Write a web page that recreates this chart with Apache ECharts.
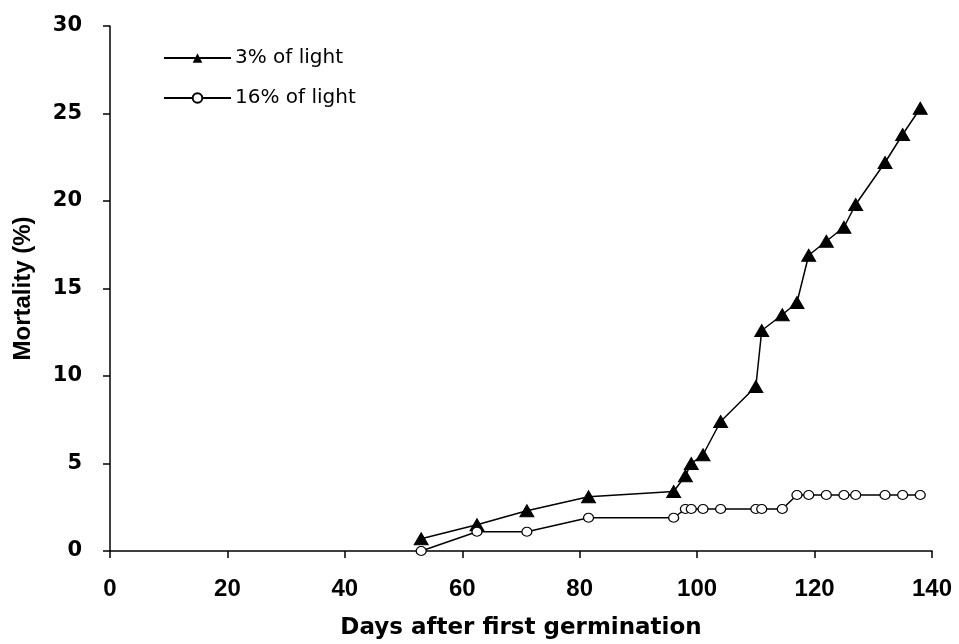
<!DOCTYPE html>
<html>
<head>
<meta charset="utf-8">
<script src="https://cdn.jsdelivr.net/npm/echarts@6/dist/echarts.min.js"></script>
<style>html,body{margin:0;padding:0;background:#fff}#c{width:959px;height:644px}</style>
</head>
<body>
<div id="c"></div>
<script>
const seriesNames = ['3% of light', '16% of light'];
const days3 = [53, 62.5, 71, 81.5, 96, 98, 99, 101, 104, 110, 111, 114.5, 117, 119, 122, 125, 127, 132, 135, 138];
const mort3 = [0.7, 1.5, 2.3, 3.1, 3.4, 4.3, 5.0, 5.5, 7.4, 9.4, 12.6, 13.5, 14.2, 16.9, 17.7, 18.5, 19.8, 22.2, 23.8, 25.3];
const days16 = [53, 62.5, 71, 81.5, 96, 98, 99, 101, 104, 110, 111, 114.5, 117, 119, 122, 125, 127, 132, 135, 138];
const mort16 = [0, 1.1, 1.1, 1.9, 1.9, 2.4, 2.4, 2.4, 2.4, 2.4, 2.4, 2.4, 3.2, 3.2, 3.2, 3.2, 3.2, 3.2, 3.2, 3.2];
const xTicks = [0, 20, 40, 60, 80, 100, 120, 140];
const yTicks = [0, 5, 10, 15, 20, 25, 30];
const xTitle = 'Days after first germination';
const yTitle = 'Mortality (%)';

const chart = echarts.init(document.getElementById('c'), null, {renderer: 'canvas'});
const pair = (xs, ys) => xs.map((x, i) => [x, ys[i]]);
chart.setOption({
  animation: false,
  backgroundColor: '#fff',
  grid: {left: 110, right: 27, top: 26, bottom: 93, containLabel: false, outerBoundsMode: 'none'},
  legend: {
    orient: 'vertical', left: 163, top: 47, padding: 0, itemWidth: 67, itemHeight: 12, itemGap: 18,
    textStyle: {fontFamily: 'DejaVu Sans', fontSize: 20, color: '#000', lineHeight: 22, padding: [0,0,0,-1]},
    data: seriesNames
  },
  xAxis: {
    type: 'value', min: xTicks[0], max: xTicks[xTicks.length-1], interval: 20,
    axisLine: {lineStyle: {color: '#000', width: 1.5}},
    axisTick: {show: true, inside: false, length: 7, lineStyle: {color: '#000', width: 1.5}},
    splitLine: {show: false},
    axisLabel: {fontFamily: 'Liberation Sans', fontWeight: 'bold', fontSize: 24, color: '#000', margin: 26},
    name: xTitle, nameLocation: 'middle', nameGap: 66,
    nameTextStyle: {fontFamily: 'DejaVu Sans', fontWeight: 'bold', fontSize: 23, color: '#000'}
  },
  yAxis: {
    type: 'value', min: yTicks[0], max: yTicks[yTicks.length-1], interval: 5,
    axisLine: {show: true, lineStyle: {color: '#000', width: 1.5}},
    axisTick: {show: true, inside: false, length: 7, lineStyle: {color: '#000', width: 1.5}},
    splitLine: {show: false},
    axisLabel: {fontFamily: 'DejaVu Sans', fontWeight: 'bold', fontSize: 21, color: '#000', margin: 28},
    name: yTitle, nameLocation: 'middle', nameGap: 75, nameRotate: 90,
    nameTextStyle: {fontFamily: 'Liberation Sans', fontWeight: 'bold', fontSize: 24, color: '#000'}
  },
  series: [
    {
      name: seriesNames[0], type: 'line', data: pair(days3, mort3),
      symbol: 'triangle', symbolSize: [14, 12],
      itemStyle: {color: '#000', borderColor: '#000'},
      lineStyle: {color: '#000', width: 1.5}
    },
    {
      name: seriesNames[1], type: 'line', data: pair(days16, mort16),
      symbol: 'circle', symbolSize: [10, 9],
      itemStyle: {color: '#fff', borderColor: '#000', borderWidth: 1.2},
      lineStyle: {color: '#000', width: 1.5}
    }
  ]
});
</script>
</body>
</html>
